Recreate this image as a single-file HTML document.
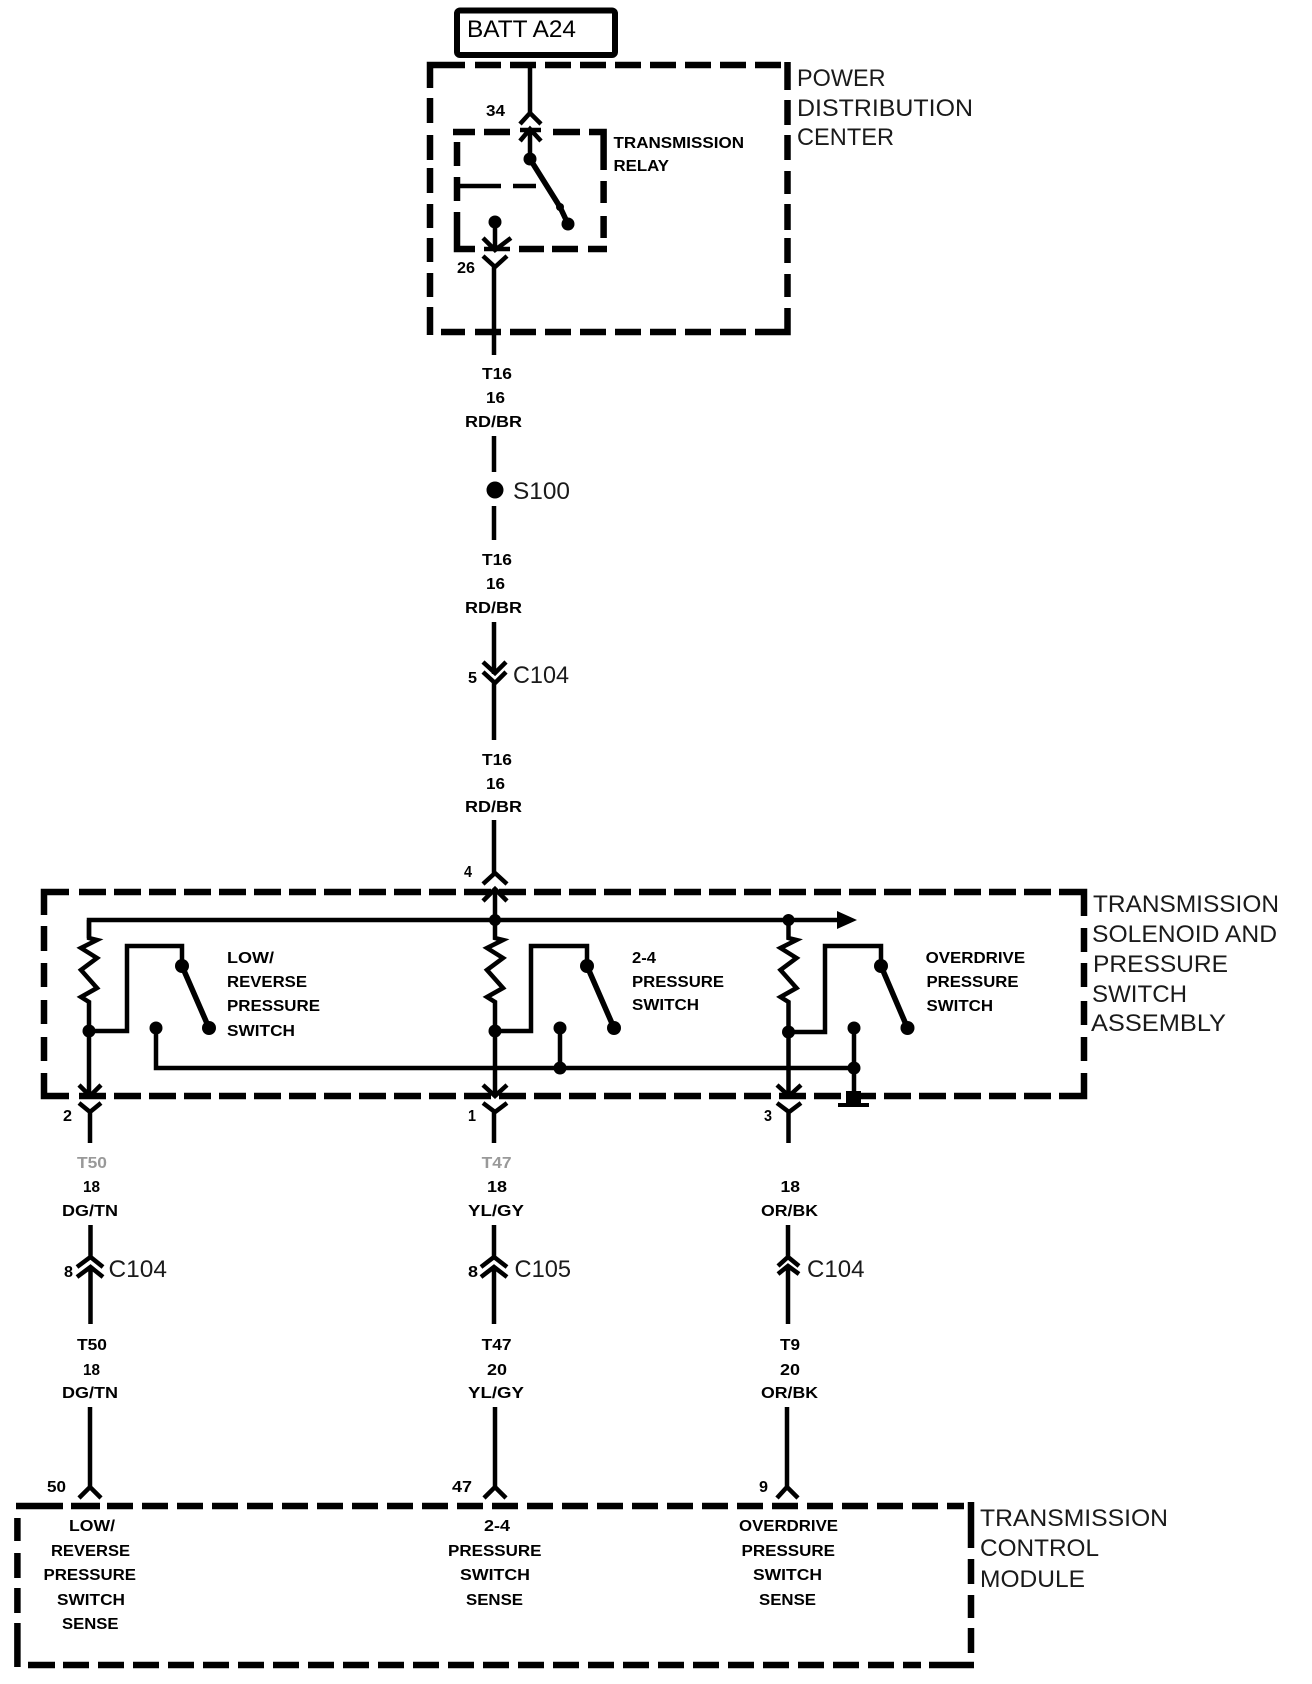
<!DOCTYPE html>
<html><head><meta charset="utf-8"><style>
html,body{margin:0;padding:0;background:#fff}
svg{display:block}
text{font-family:"Liberation Sans",sans-serif;fill:#000}
.s{font-size:16px;font-weight:bold}
.b{font-size:24px;fill:#1a1a1a}
.f{fill:#999}
</style></head><body>
<svg width="1312" height="1684" viewBox="0 0 1312 1684" xmlns="http://www.w3.org/2000/svg">
<!-- BATT -->
<rect x="457" y="10.5" width="158" height="44.5" rx="3" fill="none" stroke="#000" stroke-width="6"/>
<text class="b" x="467" y="37" textLength="109" lengthAdjust="spacingAndGlyphs" style="fill:#000">BATT A24</text>

<g fill="none" stroke="#000" stroke-width="6.5">
<!-- PDC box -->
<path d="M430,88V65H465M430,98V123M430,135V160M430,168V193M430,204V228M430,238V262M430,273V297M430,307V335M787.5,62V90M787.5,100V125M787.5,135V160M787.5,171V194M787.5,204V230M787.5,238V263M787.5,274V297M441,332H465M755,332H787.5V308M755,65H781"/>
<path d="M475,65H746M475,332H746" stroke-dasharray="26 9"/>
<!-- relay box -->
<path d="M453,132H475M484,132H510M553,132H580M589,132H603.6V170M603.6,181V203M603.6,216V238M457,142V166M457,177V201M457,212V249H475M519,249H544M552,249H578M588,249H607"/>
<!-- Assembly box -->
<path d="M44,915V892H69M44,926V951M44,963V987M44,1000V1024M44,1037V1061M44,1073V1096H69M1059,892H1084V916M1084,928V952M1084,963V987M1084,1001V1025M1084,1037V1061M1059,1096H1084V1073"/>
<path d="M79,892H1051M79,1096H1051" stroke-dasharray="27 8"/>
<!-- TCM box -->
<path d="M16,1506H63M71,1506H100M17.4,1518V1541M17.4,1553V1578M17.4,1588V1613M17.4,1623V1667M971,1502V1548M971,1559V1584M971,1595V1618M971,1628V1653M28,1665H55M929,1665H974"/>
<path d="M107,1506H964M63,1665H921" stroke-dasharray="26 9"/>
</g>

<g fill="none" stroke="#000" stroke-width="4.5">
<!-- top wire and relay -->
<path d="M530,65V113M520,124L530,113L541,124M520,141L530,129L541,141M520,130H541M530,129V159"/>
<path d="M530,159L560,207L568,224" stroke-width="5.5"/>
<path d="M457,186H501M513,186H536"/>
<path d="M495,222V250M483,238L495,250L511,238M484,249H510M483,256L495,267L507,256M494,267V355"/>
<!-- center vertical -->
<path d="M494,436V472M494,506V540M494,622V674M483,662L495,673L506,662M483,672L495,683L506,672M494,683V740M494,820V873M483,884L495,873L507,884"/>
<!-- assembly bus -->
<path d="M89,938V920H837M483,901L495,889L507,901M495,889V920"/>
<path d="M89,920V938L97,940L81,948L97,958L81,970L97,988L81,997L89,1002V1096M79,1085L90,1096L101,1085M79,1103L90,1112L101,1103M90,1112V1143"/>
<path d="M495,920V938L503,940L487,948L503,958L487,970L503,988L487,997L495,1002V1096M483,1085L495,1096L507,1085M483,1103L495,1112L507,1103M494,1112V1143"/>
<path d="M788.5,920V938L796.5,940L780.5,948L796.5,958L780.5,970L796.5,988L780.5,997L788.5,1002V1096M777,1085L789,1096L801,1085M777,1103L789,1112L801,1103M788.5,1112V1143"/>
<!-- switches -->
<path d="M89,1031H127V946H182V966M495,1031H531V946H587V966M788.5,1032H825V946H881V966"/>
<path d="M182,966L209,1028M587,966L614,1028M881,966L907.5,1028" stroke-width="5.5"/>
<path d="M156,1028V1068H854M560,1028V1068M854,1028V1098"/>
<!-- lower wires -->
<path d="M90.5,1225V1257M77,1267L90.5,1257L103,1267M77,1277L90.5,1267L103,1277M90.5,1267V1324M90,1407V1487M79,1498L90,1487L101,1498"/>
<path d="M494,1225V1257M481,1267L494,1257L507,1267M481,1277L494,1267L507,1277M494,1267V1324M495,1407V1487M484,1498L495,1487L506,1498"/>
<path d="M788,1225V1257M778,1266L788,1257L799,1266M778,1274L788,1266L799,1274M788,1266V1324M787,1407V1487M777,1498L787,1487L798,1498"/>
</g>
<g fill="#000">
<path d="M837,911L857,920L837,929Z"/>
<circle cx="530" cy="159" r="6.5"/><circle cx="568" cy="224" r="6.5"/><circle cx="560" cy="207" r="4"/><circle cx="495" cy="222" r="6.5"/>
<circle cx="495" cy="490" r="8.5"/>
<circle cx="495" cy="920" r="6"/><circle cx="788.5" cy="920" r="6"/>
<circle cx="89" cy="1031" r="6.5"/><circle cx="495" cy="1031" r="6.5"/><circle cx="788.5" cy="1032" r="6.5"/>
<circle cx="182" cy="966" r="7"/><circle cx="209" cy="1028" r="7"/><circle cx="156" cy="1028" r="6.5"/>
<circle cx="587" cy="966" r="7"/><circle cx="614" cy="1028" r="7"/><circle cx="560" cy="1028" r="6.5"/>
<circle cx="881" cy="966" r="7"/><circle cx="907.5" cy="1028" r="7"/><circle cx="854" cy="1028" r="6.5"/>
<circle cx="560" cy="1068" r="6.5"/><circle cx="854" cy="1068" r="6.5"/>
<rect x="846" y="1091" width="15" height="14"/><rect x="838" y="1103" width="31" height="4"/>
</g>

<!-- small labels -->
<g class="s">
<text class="s" x="486" y="116" textLength="19" lengthAdjust="spacingAndGlyphs">34</text>
<text class="s" x="457" y="273" textLength="18" lengthAdjust="spacingAndGlyphs">26</text>
<text class="s" x="613.5" y="148" textLength="130.5" lengthAdjust="spacingAndGlyphs">TRANSMISSION</text>
<text class="s" x="613.5" y="171" textLength="55.5" lengthAdjust="spacingAndGlyphs">RELAY</text>

<text class="s" x="482" y="379" textLength="30" lengthAdjust="spacingAndGlyphs">T16</text>
<text class="s" x="486" y="403" textLength="19" lengthAdjust="spacingAndGlyphs">16</text>
<text class="s" x="465" y="427" textLength="57" lengthAdjust="spacingAndGlyphs">RD/BR</text>
<text class="s" x="482" y="565" textLength="30" lengthAdjust="spacingAndGlyphs">T16</text>
<text class="s" x="486" y="589" textLength="19" lengthAdjust="spacingAndGlyphs">16</text>
<text class="s" x="465" y="613" textLength="57" lengthAdjust="spacingAndGlyphs">RD/BR</text>
<text class="s" x="468" y="683" textLength="9" lengthAdjust="spacingAndGlyphs">5</text>
<text class="s" x="482" y="765" textLength="30" lengthAdjust="spacingAndGlyphs">T16</text>
<text class="s" x="486" y="789" textLength="19" lengthAdjust="spacingAndGlyphs">16</text>
<text class="s" x="465" y="812" textLength="57" lengthAdjust="spacingAndGlyphs">RD/BR</text>
<text class="s" x="464" y="877" textLength="8" lengthAdjust="spacingAndGlyphs">4</text>

<text class="s" x="227" y="963" textLength="47" lengthAdjust="spacingAndGlyphs">LOW/</text>
<text class="s" x="227" y="987" textLength="80" lengthAdjust="spacingAndGlyphs">REVERSE</text>
<text class="s" x="227" y="1011" textLength="93" lengthAdjust="spacingAndGlyphs">PRESSURE</text>
<text class="s" x="227" y="1036" textLength="68" lengthAdjust="spacingAndGlyphs">SWITCH</text>
<text class="s" x="632" y="963" textLength="24" lengthAdjust="spacingAndGlyphs">2-4</text>
<text class="s" x="632" y="987" textLength="92" lengthAdjust="spacingAndGlyphs">PRESSURE</text>
<text class="s" x="632" y="1010" textLength="67" lengthAdjust="spacingAndGlyphs">SWITCH</text>
<text class="s" x="925.6" y="963" textLength="99.5" lengthAdjust="spacingAndGlyphs">OVERDRIVE</text>
<text class="s" x="926.5" y="987" textLength="92" lengthAdjust="spacingAndGlyphs">PRESSURE</text>
<text class="s" x="926.5" y="1011" textLength="66.5" lengthAdjust="spacingAndGlyphs">SWITCH</text>

<text class="s" x="63" y="1121" textLength="9" lengthAdjust="spacingAndGlyphs">2</text>
<text class="s" x="468" y="1121" textLength="8" lengthAdjust="spacingAndGlyphs">1</text>
<text class="s" x="764" y="1121" textLength="8" lengthAdjust="spacingAndGlyphs">3</text>

<text class="s f" x="77" y="1168" textLength="30" lengthAdjust="spacingAndGlyphs">T50</text>
<text class="s" x="83" y="1192" textLength="17" lengthAdjust="spacingAndGlyphs">18</text>
<text class="s" x="62" y="1216" textLength="56" lengthAdjust="spacingAndGlyphs">DG/TN</text>
<text class="s f" x="481.6" y="1168" textLength="30" lengthAdjust="spacingAndGlyphs">T47</text>
<text class="s" x="487" y="1192" textLength="20" lengthAdjust="spacingAndGlyphs">18</text>
<text class="s" x="468" y="1216" textLength="56" lengthAdjust="spacingAndGlyphs">YL/GY</text>
<text class="s" x="780.5" y="1192" textLength="19.5" lengthAdjust="spacingAndGlyphs">18</text>
<text class="s" x="761" y="1216" textLength="57" lengthAdjust="spacingAndGlyphs">OR/BK</text>

<text class="s" x="64" y="1277" textLength="9" lengthAdjust="spacingAndGlyphs">8</text>
<text class="s" x="468" y="1277" textLength="10" lengthAdjust="spacingAndGlyphs">8</text>

<text class="s" x="77" y="1350" textLength="30" lengthAdjust="spacingAndGlyphs">T50</text>
<text class="s" x="83" y="1375" textLength="17" lengthAdjust="spacingAndGlyphs">18</text>
<text class="s" x="62" y="1398" textLength="56" lengthAdjust="spacingAndGlyphs">DG/TN</text>
<text class="s" x="481.6" y="1350" textLength="30" lengthAdjust="spacingAndGlyphs">T47</text>
<text class="s" x="487" y="1375" textLength="20" lengthAdjust="spacingAndGlyphs">20</text>
<text class="s" x="468" y="1398" textLength="56" lengthAdjust="spacingAndGlyphs">YL/GY</text>
<text class="s" x="780" y="1350" textLength="20" lengthAdjust="spacingAndGlyphs">T9</text>
<text class="s" x="780" y="1375" textLength="20" lengthAdjust="spacingAndGlyphs">20</text>
<text class="s" x="761" y="1398" textLength="57" lengthAdjust="spacingAndGlyphs">OR/BK</text>

<text class="s" x="47" y="1492" textLength="19" lengthAdjust="spacingAndGlyphs">50</text>
<text class="s" x="452" y="1492" textLength="20" lengthAdjust="spacingAndGlyphs">47</text>
<text class="s" x="759" y="1492" textLength="9" lengthAdjust="spacingAndGlyphs">9</text>

<text class="s" x="69" y="1531" textLength="46" lengthAdjust="spacingAndGlyphs">LOW/</text>
<text class="s" x="51" y="1556" textLength="79" lengthAdjust="spacingAndGlyphs">REVERSE</text>
<text class="s" x="43.5" y="1580" textLength="92.5" lengthAdjust="spacingAndGlyphs">PRESSURE</text>
<text class="s" x="57" y="1605" textLength="68" lengthAdjust="spacingAndGlyphs">SWITCH</text>
<text class="s" x="62" y="1629" textLength="56.5" lengthAdjust="spacingAndGlyphs">SENSE</text>
<text class="s" x="484" y="1531" textLength="26" lengthAdjust="spacingAndGlyphs">2-4</text>
<text class="s" x="448" y="1556" textLength="93.5" lengthAdjust="spacingAndGlyphs">PRESSURE</text>
<text class="s" x="460" y="1580" textLength="70" lengthAdjust="spacingAndGlyphs">SWITCH</text>
<text class="s" x="466" y="1605" textLength="57" lengthAdjust="spacingAndGlyphs">SENSE</text>
<text class="s" x="739" y="1531" textLength="99" lengthAdjust="spacingAndGlyphs">OVERDRIVE</text>
<text class="s" x="741.5" y="1556" textLength="93.5" lengthAdjust="spacingAndGlyphs">PRESSURE</text>
<text class="s" x="753" y="1580" textLength="69" lengthAdjust="spacingAndGlyphs">SWITCH</text>
<text class="s" x="759" y="1605" textLength="57" lengthAdjust="spacingAndGlyphs">SENSE</text>
</g>

<!-- big labels -->
<text class="b" x="797" y="86" textLength="88.5" lengthAdjust="spacingAndGlyphs">POWER</text>
<text class="b" x="797" y="116" textLength="176" lengthAdjust="spacingAndGlyphs">DISTRIBUTION</text>
<text class="b" x="797" y="145" textLength="97" lengthAdjust="spacingAndGlyphs">CENTER</text>
<text class="b" x="513" y="499" textLength="57" lengthAdjust="spacingAndGlyphs">S100</text>
<text class="b" x="513" y="683" textLength="56" lengthAdjust="spacingAndGlyphs">C104</text>
<text class="b" x="1093" y="912" textLength="186" lengthAdjust="spacingAndGlyphs">TRANSMISSION</text>
<text class="b" x="1092" y="942" textLength="185" lengthAdjust="spacingAndGlyphs">SOLENOID AND</text>
<text class="b" x="1093" y="972" textLength="135" lengthAdjust="spacingAndGlyphs">PRESSURE</text>
<text class="b" x="1092" y="1002" textLength="95" lengthAdjust="spacingAndGlyphs">SWITCH</text>
<text class="b" x="1091" y="1031" textLength="135" lengthAdjust="spacingAndGlyphs">ASSEMBLY</text>
<text class="b" x="108.5" y="1277" textLength="58.5" lengthAdjust="spacingAndGlyphs">C104</text>
<text class="b" x="514.5" y="1277" textLength="56.5" lengthAdjust="spacingAndGlyphs">C105</text>
<text class="b" x="807" y="1277" textLength="57.5" lengthAdjust="spacingAndGlyphs">C104</text>
<text class="b" x="980" y="1526" textLength="188" lengthAdjust="spacingAndGlyphs">TRANSMISSION</text>
<text class="b" x="980" y="1556" textLength="119" lengthAdjust="spacingAndGlyphs">CONTROL</text>
<text class="b" x="980" y="1587" textLength="105" lengthAdjust="spacingAndGlyphs">MODULE</text>
</svg>
</body></html>
